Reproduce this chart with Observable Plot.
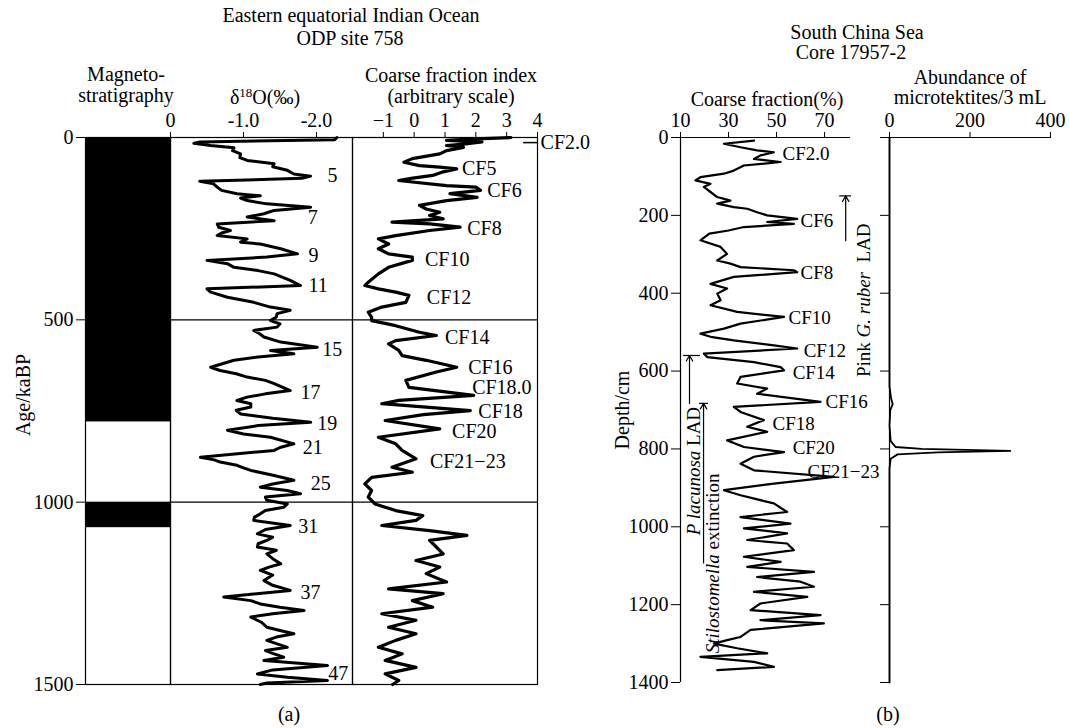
<!DOCTYPE html>
<html><head><meta charset="utf-8">
<script src="https://cdn.jsdelivr.net/npm/d3@7"></script>
<script src="https://cdn.jsdelivr.net/npm/@observablehq/plot@0.6"></script>
<style>
body{margin:0;background:#fff;}
#chart{position:relative;width:1069px;height:728px;font-family:"Liberation Serif",serif;color:#000;overflow:hidden;}
.lbl{position:absolute;white-space:nowrap;transform:translate(-50%,-50%);font-size:20px;line-height:1;}
.rot{transform:translate(-50%,-50%) rotate(-90deg);}
sup{font-size:13px;vertical-align:7px;}
</style></head><body><div id="chart"></div>
<script>
// ---------- data ----------
const ageTicks = [0, 500, 1000, 1500];
const d18OTicks = [0, -1, -2];
const cfIndexTicks = [-1, 0, 1, 2, 3, 4];
const cfPctTicks = [10, 30, 50, 70];
const depthTicks = [0, 200, 400, 600, 800, 1000, 1200, 1400];
const microTicks = [0, 200, 400];

// normal polarity intervals (ka)
const magnetoNormal = [[0, 780], [1000, 1070]];

// ODP 758 δ18O [age ka, ‰]
const d18O = [[0,-2.28],[6,-2.25],[12,-0.4],[16,-0.32],[22,-0.55],[28,-0.87],[36,-0.85],[45,-0.96],[55,-0.95],[63,-1.05],[72,-1.42],[80,-1.40],[90,-1.60],[100,-1.69],[106,-1.92],[112,-1.80],[120,-0.40],[127,-0.59],[136,-0.64],[145,-0.70],[154,-0.91],[160,-1.23],[166,-0.96],[173,-1.05],[182,-1.32],[191,-1.92],[200,-1.42],[209,-1.28],[218,-1.05],[228,-1.42],[237,-0.64],[246,-0.66],[255,-0.82],[262,-0.70],[269,-0.64],[278,-1.05],[287,-0.96],[292,-1.23],[305,-1.51],[319,-1.74],[328,-1.32],[337,-0.50],[346,-0.78],[356,-0.87],[365,-1.20],[374,-1.42],[392,-1.64],[406,-1.78],[415,-0.50],[424,-0.55],[438,-0.78],[452,-1.14],[465,-1.37],[474,-1.64],[483,-1.46],[492,-1.45],[502,-1.37],[511,-1.50],[520,-1.46],[529,-1.14],[538,-1.22],[547,-1.28],[561,-1.51],[575,-2.01],[584,-1.37],[593,-1.69],[602,-1.20],[611,-0.87],[630,-0.55],[639,-0.68],[648,-0.90],[657,-1.05],[666,-1.30],[675,-1.42],[694,-1.64],[703,-1.30],[712,-1.05],[721,-0.91],[730,-1.10],[739,-1.10],[748,-0.90],[758,-0.96],[770,-1.40],[781,-1.92],[790,-1.20],[803,-0.78],[813,-1.0],[822,-1.37],[840,-1.69],[850,-1.50],[858,-1.42],[877,-0.41],[884,-0.60],[890,-0.68],[899,-0.91],[906,-1.0],[913,-1.10],[927,-1.42],[940,-1.69],[950,-1.40],[959,-1.23],[968,-1.60],[977,-1.78],[986,-1.30],[995,-1.32],[1005,-1.60],[1014,-1.55],[1023,-1.30],[1032,-1.23],[1041,-1.15],[1050,-1.14],[1064,-1.64],[1075,-1.30],[1087,-1.19],[1096,-1.40],[1105,-1.32],[1114,-1.20],[1123,-1.19],[1132,-1.45],[1142,-1.32],[1155,-1.40],[1169,-1.51],[1178,-1.35],[1187,-1.23],[1200,-1.40],[1215,-1.28],[1228,-1.40],[1242,-1.64],[1260,-0.73],[1270,-1.10],[1279,-1.23],[1288,-1.50],[1297,-1.83],[1306,-1.40],[1315,-1.10],[1330,-1.25],[1343,-1.32],[1352,-1.50],[1361,-1.69],[1370,-1.45],[1379,-1.32],[1388,-1.45],[1398,-1.60],[1407,-1.30],[1416,-1.42],[1425,-1.55],[1434,-1.28],[1448,-2.15],[1460,-1.40],[1471,-1.19],[1480,-1.60],[1489,-2.15],[1496,-1.32],[1500,-1.23]];

// ODP 758 coarse fraction index [age ka, index]
const cfIndex = [[0,3.14],[4,2.0],[8,1.05],[12,2.2],[18,1.6],[22,1.05],[27,1.60],[36,1.05],[45,0.83],[58,-0.06],[68,-0.33],[77,0.17],[81,0.83],[86,1.38],[95,0.90],[104,0.60],[112,-0.10],[118,-0.50],[122,-0.06],[132,1.05],[136,2.0],[145,2.15],[154,1.16],[164,2.04],[173,1.05],[186,0.17],[196,0.39],[205,0.83],[214,0.50],[223,0.94],[232,-0.72],[237,0.50],[246,1.49],[255,0.50],[269,-0.60],[278,-1.16],[292,-0.83],[305,-1.16],[319,-0.83],[328,-0.06],[337,-0.06],[356,-0.83],[374,-1.16],[397,-1.49],[406,-1.60],[415,-1.16],[424,-0.60],[433,-0.17],[452,-0.27],[465,-1.05],[479,-1.49],[493,-1.38],[502,-1.38],[516,-0.60],[534,0.17],[543,0.72],[557,-0.60],[566,-0.83],[584,-0.50],[598,-0.39],[611,0.39],[630,1.38],[643,0.72],[666,-0.27],[685,-0.17],[707,1.93],[721,-0.50],[730,-1.05],[749,1.82],[760,0.30],[776,-0.94],[799,0.83],[822,-1.16],[840,-0.60],[858,-0.39],[881,0.06],[904,-0.72],[918,-0.06],[932,-1.38],[950,-1.60],[968,-1.38],[986,-1.49],[1005,-1.27],[1023,-0.60],[1037,0.28],[1050,0.06],[1064,-1.05],[1078,0.50],[1091,1.71],[1105,0.50],[1123,0.72],[1142,0.94],[1160,0.06],[1178,0.83],[1196,0.39],[1219,1.05],[1238,-0.83],[1251,0.94],[1270,-0.06],[1288,0.60],[1306,-1.05],[1324,0.06],[1343,-0.83],[1361,0.06],[1379,-0.60],[1398,-1.16],[1416,-0.39],[1434,-0.94],[1453,0.06],[1471,-0.94],[1489,-0.50],[1500,-0.70]];

// Core 17957-2 coarse fraction [depth cm, %]
const coarsePct = [[8,40.6],[16,28.1],[25,35],[33,41.9],[38,48.9],[46,43.3],[55,40.6],[63,51.7],[72,36.4],[85,32.2],[93,28.1],[102,18.3],[110,16.2],[119,22.5],[127,19.7],[140,22.5],[153,25.3],[162,30.8],[170,25.3],[179,32.2],[183,37.8],[192,41.9],[200,46.1],[209,58.6],[217,46.1],[222,57.2],[230,36.4],[239,30],[247,22],[264,18.3],[281,26.7],[299,29.4],[316,25.3],[324,30.8],[333,35],[341,57.2],[346,58.6],[358,32.2],[376,22.5],[388,29.4],[401,25.3],[418,26.7],[431,22.5],[448,33.6],[461,53.1],[478,35],[491,28.1],[504,18.3],[512,22.5],[521,32.2],[534,48.9],[542,58.6],[555,19.7],[564,21.1],[577,40.6],[590,51.7],[598,53.1],[615,35],[632,33.6],[645,46.1],[658,41.9],[679,68.3],[692,32.2],[705,35],[726,44.7],[743,37.8],[756,46.1],[778,29.4],[795,36.4],[808,53.1],[820,40.6],[838,35],[855,40.6],[872,73.9],[889,48.9],[906,28.1],[919,35],[940,48.9],[962,54.4],[975,35],[992,55.8],[1004,36.4],[1017,54.4],[1034,37.8],[1043,54.4],[1060,57.2],[1077,36.4],[1090,51.7],[1103,37.8],[1116,65.6],[1129,41.9],[1141,60],[1154,65.6],[1167,40.6],[1180,62.8],[1197,43.3],[1214,39.2],[1227,68.3],[1240,43.3],[1248,69.7],[1265,39.2],[1283,35],[1291,29.4],[1300,23.9],[1312,33.6],[1325,46.1],[1334,18.3],[1347,40.6],[1360,48.9],[1368,25.3]];

// microtektites per 3 mL [depth cm, count]
const microtektites = [[0,0],[640,0],[670,4],[685,8],[700,2],[740,0],[780,3],[795,15],[800,80],[805,300],[809,120],[814,20],[825,3],[850,0],[1400,0]];

// isotope stage labels [label, age, δ18O position]
const stageLabels = [["5",104,-2.15],["7",219,-1.88],["9",324,-1.89],["11",406,-1.89],["15",581,-2.08],["17",699,-1.78],["19",785,-2.01],["21",850,-1.81],["25",948,-1.92],["31",1067,-1.75],["37",1248,-1.78],["47",1470,-2.16]];
// coarse fraction event labels, ODP 758 [label, age, index position]
const cfLabelsA = [["CF2.0",14,4.1],["CF5",85,1.55],["CF6",145,2.37],["CF8",250,1.72],["CF10",335,0.35],["CF12",439,0.41],["CF14",548,1.0],["CF16",630,1.75],["CF18.0",685,1.88],["CF18",752,2.08],["CF20",806,1.23],["CF21\u221223",888,0.51]];
// coarse fraction event labels, 17957-2 [label, depth, % position]
const cfLabelsB = [["CF2.0",41,52.5],["CF6",213,60],["CF8",349,60],["CF10",463,55],["CF12",549,61.3],["CF14",605,56.7],["CF16",680,70.4],["CF18",737,48.3],["CF20",797,56.7],["CF21\u221223",858,62.9]];
// biostratigraphic events [text, x (%), arrow bottom depth, arrow top depth, bar from %, bar to %, text depth, text x]
const events = [
  ["Pink G. ruber LAD", 78.8, 265, 150, 76.3, 81.2, 418, 86.2],
  ["P lacunosa LAD", 13.75, 683, 560, 11.3, 18.3, 857, 15.4],
  ["Stilostomella extinction", 19.6, 1093, 683, 17.9, 21.7, 1094, 23.3]
];
const italicParts = {
  "Pink G. ruber LAD": [["Pink ", false], ["G. ruber", true], ["\u00a0\u00a0LAD", false]],
  "P lacunosa LAD": [["P lacunosa", true], [" LAD", false]],
  "Stilostomella extinction": [["Stilostomella", true], [" extinction", false]]
};

// ---------- layout ----------
const W = 1069, H = 728;
const chart = document.getElementById("chart");
const FONT = "Liberation Serif, Times New Roman, serif";
const intFmt = d3.format("d");
function panel(opts) {
  const svg = Plot.plot({
    width: W, height: H, ...opts,
    style: {background: "transparent", position: "absolute", left: "0px", top: "0px",
            fontFamily: FONT, fontSize: "20px", color: "black", overflow: "visible"}
  });
  chart.appendChild(svg);
  return svg;
}
const obj = (arr, k1, k2) => arr.map(d => ({[k1]: d[0], [k2]: d[1]}));
const A = {top: 137, bottom: H - 684};
const B = {top: 137, bottom: H - 682};

// (a) magnetostratigraphy
panel({
  marginLeft: 85, marginRight: W - 170, marginTop: A.top, marginBottom: A.bottom,
  x: {domain: [0, 1], axis: null},
  y: {domain: [0, 1500], reverse: true, ticks: ageTicks, tickFormat: intFmt, tickSize: 9, tickPadding: 3, label: null},
  marks: [
    Plot.rect(magnetoNormal, {x1: 0, x2: 1, y1: d => d[0], y2: d => d[1], fill: "black"}),
    Plot.frame({stroke: "black", strokeWidth: 1.2})
  ]
});
// (a) δ18O
panel({
  marginLeft: 170, marginRight: W - 352, marginTop: A.top, marginBottom: A.bottom,
  x: {domain: [0, -2.493], ticks: d18OTicks, tickFormat: d => d === 0 ? "0" : d.toFixed(1), tickSize: 6, tickPadding: 5, axis: "top", label: null},
  y: {domain: [0, 1500], reverse: true, axis: null},
  marks: [
    Plot.frame({stroke: "black", strokeWidth: 1.2}),
    Plot.ruleY([500, 1000], {stroke: "black", strokeWidth: 1.2}),
    Plot.line(obj(d18O, "age", "v"), {x: "v", y: "age", stroke: "black", strokeWidth: 3}),
    Plot.text(stageLabels, {x: d => d[2], y: d => d[1], text: d => d[0], textAnchor: "start", fill: "black"})
  ]
});
// (a) coarse fraction index
panel({
  marginLeft: 352, marginRight: W - 537, marginTop: A.top, marginBottom: A.bottom,
  x: {domain: [-2, 4], ticks: cfIndexTicks, tickFormat: intFmt, tickSize: 6, tickPadding: 5, axis: "top", label: null},
  y: {domain: [0, 1500], reverse: true, axis: null},
  marks: [
    Plot.frame({stroke: "black", strokeWidth: 1.2}),
    Plot.ruleY([500, 1000], {stroke: "black", strokeWidth: 1.2}),
    Plot.ruleY([14], {x1: 3.55, x2: 4.0, stroke: "black", strokeWidth: 1.5}),
    Plot.line(obj(cfIndex, "age", "v"), {x: "v", y: "age", stroke: "black", strokeWidth: 3.2}),
    Plot.text(cfLabelsA, {x: d => d[2], y: d => d[1], text: d => d[0], textAnchor: "start", fill: "black"})
  ]
});
// (b) coarse fraction %
const svgB = panel({
  marginLeft: 680, marginRight: W - 850, marginTop: B.top, marginBottom: B.bottom,
  x: {domain: [10, 80.8], ticks: cfPctTicks, tickFormat: intFmt, tickSize: 6, tickPadding: 5, axis: "top", label: null},
  y: {domain: [0, 1400], reverse: true, ticks: depthTicks, tickFormat: intFmt, tickSize: 9, tickPadding: 3, label: null},
  marks: [
    Plot.ruleX([10], {stroke: "black", strokeWidth: 1.2}),
    Plot.ruleY([0], {stroke: "black", strokeWidth: 1.2}),
    Plot.line(obj(coarsePct, "depth", "v"), {x: "v", y: "depth", stroke: "black", strokeWidth: 2.2}),
    Plot.text(cfLabelsB, {x: d => d[2], y: d => d[1], text: d => d[0], textAnchor: "start", fill: "black", fontSize: 19}),
    Plot.arrow(events, {x1: d => d[1], x2: d => d[1], y1: d => d[2], y2: d => d[3], stroke: "black", strokeWidth: 1.2, headLength: 8}),
    Plot.ruleY(events, {y: d => d[3], x1: d => d[4], x2: d => d[5], stroke: "black", strokeWidth: 1.2}),
    Plot.text(events, {x: d => d[7], y: d => d[6], text: d => d[0], rotate: -90, fill: "black", fontSize: 19})
  ]
});
// (b) microtektites
panel({
  marginLeft: 889, marginRight: W - 1050, marginTop: B.top, marginBottom: B.bottom,
  x: {domain: [0, 400], ticks: microTicks, tickFormat: intFmt, tickSize: 6, tickPadding: 5, axis: "top", label: null},
  y: {domain: [0, 1400], reverse: true, ticks: depthTicks, tickSize: 9, tickFormat: () => "", label: null},
  marks: [
    Plot.ruleX([0], {stroke: "black", strokeWidth: 1.2}),
    Plot.ruleY([0], {stroke: "black", strokeWidth: 1.2}),
    Plot.line(obj(microtektites, "depth", "n"), {x: "n", y: "depth", stroke: "black", strokeWidth: 1.8})
  ]
});

// italic parts of event labels
d3.select(svgB).selectAll("text").each(function () {
  const parts = italicParts[this.textContent];
  if (!parts) return;
  const sel = d3.select(this);
  sel.text(null);
  parts.forEach(([s, it]) => sel.append("tspan").attr("font-style", it ? "italic" : null).text(s));
});

// titles and axis labels
const labels = [
  ["Eastern equatorial Indian Ocean", 351, 15, ""],
  ["ODP site 758", 350, 38, ""],
  ["Magneto-", 126, 74, ""],
  ["stratigraphy", 126, 95, ""],
  ["\u03b4<sup>18</sup>O(\u2030)", 265, 96, ""],
  ["Coarse fraction index", 451, 75, ""],
  ["(arbitrary scale)", 451, 96, ""],
  ["South China Sea", 857, 32, ""],
  ["Core 17957-2", 851, 52, ""],
  ["Coarse fraction(%)", 767, 99, ""],
  ["Abundance of", 970, 77, ""],
  ["microtektites/3 mL", 970, 97, ""],
  ["(a)", 289, 714, ""],
  ["(b)", 888, 714, ""],
  ["Age/kaBP", 23, 395, "rot"],
  ["Depth/cm", 622, 410, "rot"]
];
for (const [t, x, y, cls] of labels) {
  const d = document.createElement("div");
  d.className = "lbl " + cls;
  d.style.left = x + "px";
  d.style.top = y + "px";
  d.innerHTML = t;
  chart.appendChild(d);
}
</script></body></html>
